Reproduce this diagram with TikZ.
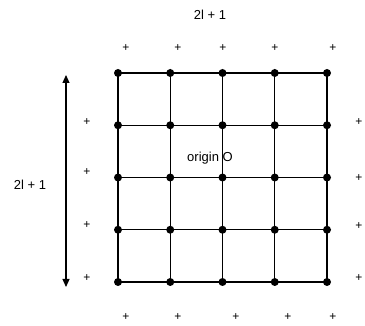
\documentclass[tikz,border=0pt]{standalone}
\usepackage{fontspec}
\setmainfont{Liberation Sans}
\usetikzlibrary{arrows.meta}
\begin{document}
\begin{tikzpicture}[x=1pt,y=-1pt,
  dot/.style={circle,fill=black,inner sep=0pt,minimum size=8pt},
  gridline/.style={line width=1.1pt},
  lbl/.style={font=\fontsize{13}{15}\selectfont,inner sep=0pt},
  pl/.style={font=\fontsize{12}{14}\selectfont,inner sep=0pt}]
\useasboundingbox (0,0) rectangle (365,326);
% grid dots
\foreach \i/\x in {1/118,2/170.25,3/222.5,4/274.75,5/327}{
  \foreach \j/\y in {1/73,2/125.25,3/177.5,4/229.75,5/282}{
    \node[dot] (d\i\j) at (\x,\y) {};
  }
}
% grid lines
\foreach \k in {1,...,5}{
  \draw[gridline] (d1\k.center) -- (d5\k.center);
  \draw[gridline] (d\k1.center) -- (d\k5.center);
}
% plus marks
\foreach \n/\x in {1/126,2/178,3/223,4/275,5/333}{
  \node[pl] (t\n) at (\x,48) {+};
}
\foreach \n/\x in {1/126,2/178,3/236,4/288,5/333}{
  \node[pl] (b\n) at (\x,317) {+};
}
\foreach \n/\y in {1/122,2/172,3/225,4/278}{
  \node[pl] (l\n) at (87,\y) {+};
}
\foreach \n/\y in {1/122,2/178,3/226,4/278}{
  \node[pl] (r\n) at (359,\y) {+};
}
% labels
\node[lbl] (top) at (210,15) {2l + 1};
\node[lbl] (side) at (30,185) {2l + 1};
\node[lbl] (orig) at (210,158) {origin O};
% arrow
\coordinate (atop) at (66,75);
\coordinate (abot) at (66,287);
\draw[line width=1.1pt,{Triangle[length=8pt,width=7pt]}-{Triangle[length=8pt,width=7pt]}] (abot) -- (atop);
\end{tikzpicture}
\end{document}
